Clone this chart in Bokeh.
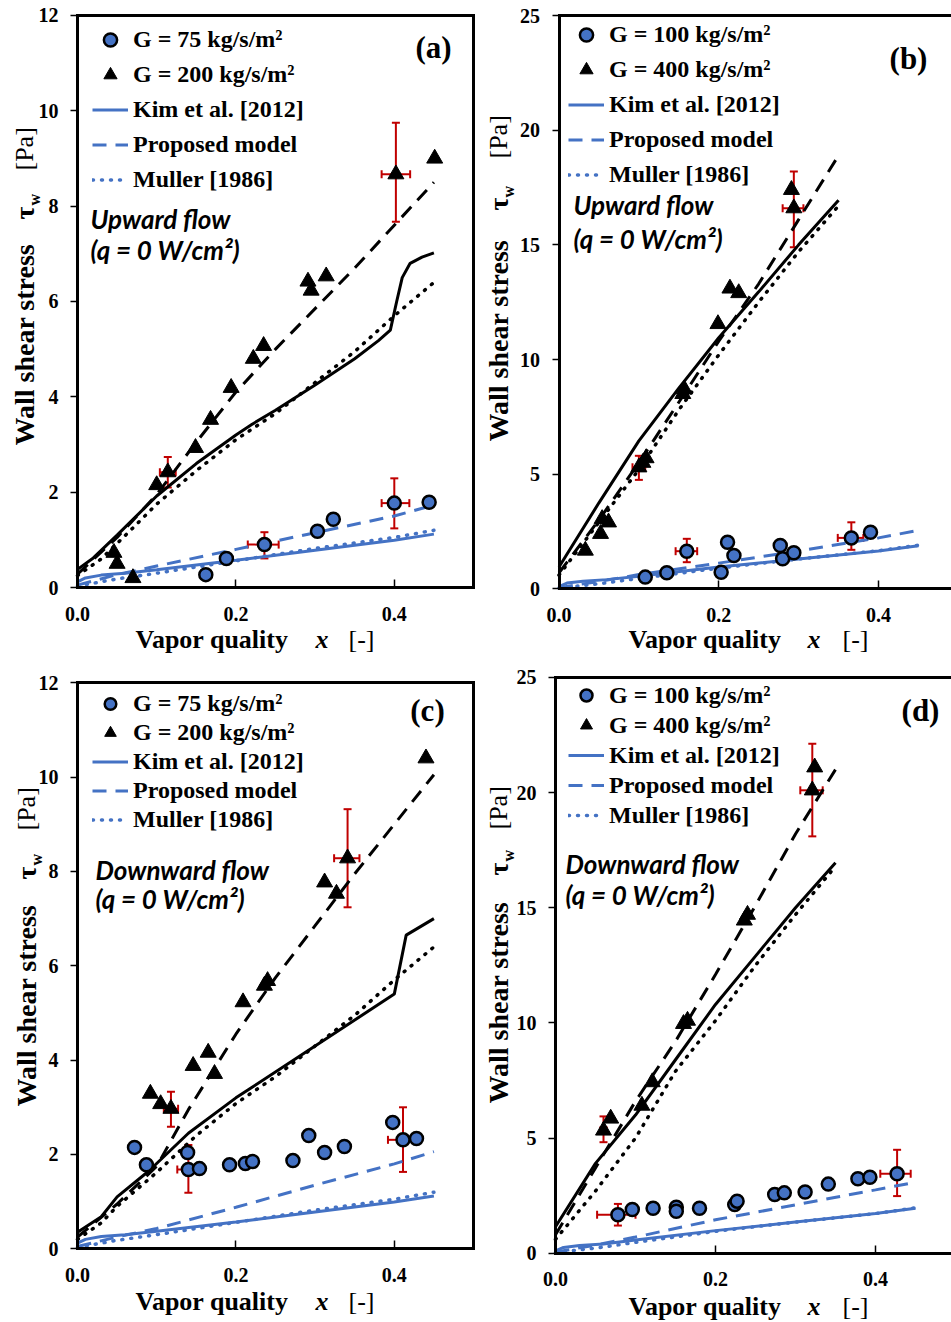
import math
from bokeh.plotting import figure
from bokeh.models import (ColumnDataSource, Range1d, FixedTicker, Label, Legend, LegendItem,
                          Whisker, TeeHead, LinearAxis, NumeralTickFormatter)
from bokeh.layouts import column, row
from bokeh.embed import file_html
from bokeh.resources import INLINE

BLUE = "#4472C4"
RED = "#C00000"
SERIF = "Liberation Serif"
SANS = "Lato"

# ---------------- Panel (a): upward flow, G = 75 / 200 ----------------
a_x_lo = [0.162, 0.188, 0.236, 0.303, 0.323, 0.400, 0.444]
a_y_lo = [0.27, 0.61, 0.90, 1.18, 1.43, 1.77, 1.79]
a_x_hi = [0.046, 0.050, 0.070, 0.100, 0.114, 0.149, 0.168, 0.194, 0.222, 0.235, 0.291, 0.295, 0.314, 0.402, 0.451]
a_y_hi = [0.73, 0.50, 0.20, 2.15, 2.42, 2.93, 3.52, 4.19, 4.80, 5.07, 6.42, 6.23, 6.53, 8.67, 9.00]
a_err_x = [0.236, 0.400, 0.114, 0.402]
a_err_y = [0.90, 1.77, 2.42, 8.67]
a_err_ylo = [0.61, 1.24, 2.10, 7.67]
a_err_yhi = [1.16, 2.29, 2.74, 9.75]
a_err_xlo = [0.215, 0.384, 0.104, 0.384]
a_err_xhi = [0.254, 0.419, 0.124, 0.420]
a_kim_hi_x = [0, 0.02, 0.05, 0.10, 0.15, 0.20, 0.22, 0.25, 0.30, 0.35, 0.38, 0.395, 0.403, 0.41, 0.42, 0.435, 0.45]
a_kim_hi_y = [0.38, 0.62, 1.10, 1.92, 2.60, 3.20, 3.42, 3.72, 4.25, 4.80, 5.18, 5.40, 6.00, 6.50, 6.80, 6.93, 7.02]
a_mul_hi_x = [0, 0.03, 0.07, 0.10, 0.15, 0.20, 0.25, 0.30, 0.35, 0.40, 0.45]
a_mul_hi_y = [0.25, 0.60, 1.25, 1.75, 2.45, 3.10, 3.65, 4.30, 4.95, 5.70, 6.40]
a_pro_hi_x = [0, 0.05, 0.10, 0.15, 0.20, 0.25, 0.30, 0.35, 0.40, 0.45]
a_pro_hi_y = [0.28, 1.05, 1.95, 3.05, 4.10, 5.00, 5.85, 6.70, 7.60, 8.50]
a_kim_lo_x = [0, 0.01, 0.03, 0.06, 0.10, 0.20, 0.30, 0.40, 0.45]
a_kim_lo_y = [0.12, 0.20, 0.26, 0.30, 0.37, 0.57, 0.78, 0.99, 1.12]
a_pro_lo_x = [0, 0.05, 0.10, 0.20, 0.30, 0.40, 0.45]
a_pro_lo_y = [0.05, 0.27, 0.45, 0.80, 1.15, 1.50, 1.73]
a_mul_lo_x = [0, 0.05, 0.10, 0.20, 0.30, 0.40, 0.45]
a_mul_lo_y = [0.03, 0.18, 0.30, 0.56, 0.82, 1.05, 1.20]

# ---------------- Panel (b): upward flow, G = 100 / 400 ----------------
b_x_lo = [0.108, 0.135, 0.160, 0.203, 0.211, 0.219, 0.277, 0.280, 0.294, 0.366, 0.390]
b_y_lo = [0.51, 0.70, 1.64, 0.72, 2.03, 1.45, 1.89, 1.31, 1.57, 2.22, 2.47]
b_x_hi = [0.033, 0.052, 0.054, 0.062, 0.100, 0.105, 0.109, 0.155, 0.157, 0.199, 0.214, 0.225, 0.291, 0.294]
b_y_hi = [1.67, 2.40, 3.05, 2.90, 5.30, 5.50, 5.70, 8.50, 8.70, 11.55, 13.10, 12.90, 17.40, 16.60]
b_err_x = [0.160, 0.366, 0.100, 0.294]
b_err_y = [1.64, 2.22, 5.30, 16.60]
b_err_ylo = [1.16, 1.70, 4.75, 14.90]
b_err_yhi = [2.18, 2.90, 5.80, 18.20]
b_err_xlo = [0.146, 0.349, 0.092, 0.280]
b_err_xhi = [0.173, 0.381, 0.108, 0.306]
b_kim_hi_x = [0, 0.05, 0.10, 0.15, 0.20, 0.25, 0.30, 0.35]
b_kim_hi_y = [0.95, 3.75, 6.45, 8.75, 10.95, 12.95, 15.00, 16.95]
b_mul_hi_x = [0, 0.05, 0.10, 0.15, 0.20, 0.25, 0.30, 0.35]
b_mul_hi_y = [0.60, 2.90, 5.20, 7.80, 10.20, 12.50, 14.70, 16.70]
b_pro_hi_x = [0, 0.05, 0.10, 0.155, 0.20, 0.25, 0.30, 0.35]
b_pro_hi_y = [0.70, 3.00, 5.50, 8.40, 10.80, 13.30, 16.10, 18.90]
b_kim_lo_x = [0, 0.01, 0.03, 0.06, 0.10, 0.20, 0.30, 0.40, 0.45]
b_kim_lo_y = [0.10, 0.25, 0.33, 0.40, 0.55, 0.95, 1.30, 1.65, 1.88]
b_pro_lo_x = [0, 0.05, 0.10, 0.20, 0.30, 0.40, 0.45]
b_pro_lo_y = [0.05, 0.32, 0.62, 1.12, 1.65, 2.22, 2.55]
b_mul_lo_x = [0, 0.05, 0.10, 0.20, 0.30, 0.40, 0.45]
b_mul_lo_y = [0.03, 0.22, 0.45, 0.90, 1.30, 1.66, 1.90]

# ---------------- Panel (c): downward flow, G = 75 / 200 ----------------
c_x_lo = [0.072, 0.087, 0.139, 0.140, 0.154, 0.192, 0.212, 0.221, 0.272, 0.292, 0.312, 0.337, 0.398, 0.411, 0.428]
c_y_lo = [2.15, 1.78, 2.04, 1.68, 1.70, 1.78, 1.81, 1.85, 1.87, 2.40, 2.04, 2.17, 2.68, 2.31, 2.34]
c_x_hi = [0.092, 0.105, 0.118, 0.146, 0.165, 0.173, 0.209, 0.236, 0.240, 0.312, 0.327, 0.341, 0.440]
c_y_hi = [3.29, 3.07, 2.97, 3.88, 4.16, 3.71, 5.23, 5.58, 5.68, 7.77, 7.53, 8.28, 10.40]
c_err_x = [0.140, 0.411, 0.118, 0.341]
c_err_y = [1.68, 2.31, 2.97, 8.28]
c_err_ylo = [1.19, 1.63, 2.59, 7.24]
c_err_yhi = [2.20, 3.00, 3.33, 9.32]
c_err_xlo = [0.126, 0.392, 0.109, 0.324]
c_err_xhi = [0.154, 0.430, 0.127, 0.356]
c_kim_hi_x = [0, 0.03, 0.05, 0.09, 0.14, 0.20, 0.22, 0.30, 0.40, 0.415, 0.45]
c_kim_hi_y = [0.35, 0.68, 1.10, 1.65, 2.45, 3.20, 3.42, 4.30, 5.40, 6.65, 7.00]
c_mul_hi_x = [0, 0.03, 0.05, 0.10, 0.15, 0.20, 0.25, 0.30, 0.35, 0.40, 0.45]
c_mul_hi_y = [0.20, 0.55, 0.90, 1.62, 2.40, 3.08, 3.65, 4.30, 4.95, 5.70, 6.40]
c_pro_hi_x = [0, 0.05, 0.10, 0.14, 0.20, 0.25, 0.30, 0.35, 0.40, 0.45]
c_pro_hi_y = [0.25, 0.95, 1.75, 2.95, 4.55, 5.75, 6.85, 7.95, 9.00, 10.05]
c_kim_lo_x = [0, 0.01, 0.03, 0.06, 0.10, 0.20, 0.30, 0.40, 0.45]
c_kim_lo_y = [0.12, 0.20, 0.26, 0.30, 0.37, 0.57, 0.78, 0.99, 1.12]
c_pro_lo_x = [0, 0.05, 0.10, 0.20, 0.30, 0.40, 0.45]
c_pro_lo_y = [0.05, 0.25, 0.43, 0.88, 1.35, 1.80, 2.06]
c_mul_lo_x = [0, 0.05, 0.10, 0.20, 0.30, 0.40, 0.45]
c_mul_lo_y = [0.03, 0.18, 0.30, 0.56, 0.82, 1.05, 1.20]

# ---------------- Panel (d): downward flow, G = 100 / 400 ----------------
d_x_lo = [0.078, 0.096, 0.122, 0.151, 0.151, 0.180, 0.224, 0.227, 0.274, 0.286, 0.312, 0.341, 0.378, 0.393, 0.427]
d_y_lo = [1.67, 1.90, 1.95, 2.00, 1.82, 1.95, 2.11, 2.26, 2.55, 2.62, 2.66, 3.00, 3.23, 3.30, 3.45]
d_x_hi = [0.060, 0.069, 0.108, 0.121, 0.160, 0.165, 0.236, 0.240, 0.321, 0.324]
d_y_hi = [5.33, 5.85, 6.41, 7.43, 9.96, 10.10, 14.45, 14.70, 20.10, 21.10]
d_err_x = [0.078, 0.427, 0.060, 0.321]
d_err_y = [1.67, 3.45, 5.33, 20.10]
d_err_ylo = [1.20, 2.48, 4.82, 18.10]
d_err_yhi = [2.14, 4.49, 5.94, 22.12]
d_err_xlo = [0.052, 0.406, 0.056, 0.306]
d_err_xhi = [0.100, 0.444, 0.064, 0.334]
d_kim_hi_x = [0, 0.05, 0.10, 0.15, 0.20, 0.25, 0.30, 0.35]
d_kim_hi_y = [1.15, 3.90, 6.00, 8.40, 10.80, 12.90, 15.00, 16.95]
d_mul_hi_x = [0, 0.05, 0.10, 0.15, 0.20, 0.25, 0.30, 0.35]
d_mul_hi_y = [0.60, 2.70, 5.00, 7.90, 10.10, 12.50, 14.70, 16.80]
d_pro_hi_x = [0, 0.05, 0.10, 0.15, 0.20, 0.25, 0.30, 0.35]
d_pro_hi_y = [0.80, 3.70, 6.60, 9.20, 12.10, 15.10, 18.20, 21.00]
d_kim_lo_x = [0, 0.01, 0.03, 0.06, 0.10, 0.20, 0.30, 0.40, 0.45]
d_kim_lo_y = [0.10, 0.25, 0.33, 0.40, 0.57, 0.98, 1.35, 1.72, 1.95]
d_pro_lo_x = [0, 0.05, 0.10, 0.20, 0.30, 0.40, 0.45]
d_pro_lo_y = [0.05, 0.35, 0.70, 1.45, 2.10, 2.75, 3.08]
d_mul_lo_x = [0, 0.05, 0.10, 0.20, 0.30, 0.40, 0.45]
d_mul_lo_y = [0.03, 0.22, 0.47, 0.95, 1.35, 1.72, 1.97]

x_ticks = [0.0, 0.2, 0.4]
y_ticks_small = [0, 2, 4, 6, 8, 10, 12]
y_ticks_large = [0, 5, 10, 15, 20, 25]

legend_labels_75 = ["G = 75 kg/s/m²", "G = 200 kg/s/m²"]
legend_labels_100 = ["G = 100 kg/s/m²", "G = 400 kg/s/m²"]
model_labels = ["Kim et al. [2012]", "Proposed model", "Muller [1986]"]

DASH = "14 9"
DOT = "1 8"


def add_text(p, spec, X, Y, text, font=SERIF, size="24px", style="bold",
             align="left", baseline="middle", angle=0.0):
    p.add_layout(Label(x=X - spec["ox"], y=spec["oy"] + spec["h"] - Y, x_units="screen", y_units="screen",
                       text=text, text_font=font, text_font_size=size, text_font_style=style,
                       text_align=align, text_baseline=baseline, angle=angle, text_color="black"))


def style_axis(ax):
    ax.axis_line_width = 3
    ax.axis_line_color = "black"
    ax.axis_line_cap = "square"
    ax.major_tick_line_color = "black"
    ax.major_tick_line_width = 1.5
    ax.minor_tick_line_color = None
    ax.major_label_text_font = SERIF
    ax.major_label_text_font_style = "bold"
    ax.major_label_text_font_size = "20px"
    ax.major_label_text_color = "black"


def border_axis(p, loc, side, bounds):
    ax = LinearAxis(fixed_location=loc, bounds=bounds, ticker=FixedTicker(ticks=[]),
                    major_tick_line_color=None, minor_tick_line_color=None,
                    major_label_text_font_size="0px", axis_line_width=3, axis_line_color="black",
                    axis_line_cap="square")
    p.add_layout(ax, side)


def build(spec, d):
    ox, oy, w, h = spec["ox"], spec["oy"], spec["w"], spec["h"]
    kx, ky = spec["kx"], spec["ky"]
    x0 = -(spec["X0"] - ox) / kx
    x1 = (ox + w - spec["X0"]) / kx
    y0 = -(oy + h - spec["Y0"]) / ky
    y1 = (spec["Y0"] - oy) / ky
    p = figure(width=w, height=h, x_range=Range1d(x0, x1), y_range=Range1d(y0, y1),
               min_border=0, min_border_left=0, min_border_right=0, min_border_top=0, min_border_bottom=0,
               toolbar_location=None, output_backend="svg")
    p.xgrid.visible = False
    p.ygrid.visible = False
    p.outline_line_color = None
    p.background_fill_color = "white"
    p.border_fill_color = "white"

    xa, ya = p.xaxis[0], p.yaxis[0]
    style_axis(xa)
    style_axis(ya)
    xa.fixed_location = 0
    ya.fixed_location = 0
    xa.bounds = (0, spec["xmax"])
    ya.bounds = (0, spec["ymax"])
    xa.ticker = FixedTicker(ticks=x_ticks)
    xa.formatter = NumeralTickFormatter(format="0.0")
    xa.major_tick_in = 8
    xa.major_tick_out = 0
    xa.major_label_standoff = 19
    ya.ticker = FixedTicker(ticks=spec["yticks"])
    ya.formatter = NumeralTickFormatter(format="0")
    ya.major_tick_in = 0
    ya.major_tick_out = 7
    ya.major_label_standoff = 12
    border_axis(p, spec["ymax"], "above", (0, spec["xmax"]))
    if spec["right_border"]:
        border_axis(p, spec["xmax"], "right", (0, spec["ymax"]))

    # model curves, high mass flux (black)
    p.line(d["kim_hi_x"], d["kim_hi_y"], line_color="black", line_width=3)
    p.line(d["pro_hi_x"], d["pro_hi_y"], line_color="black", line_width=3, line_dash=DASH)
    p.line(d["mul_hi_x"], d["mul_hi_y"], line_color="black", line_width=3.5, line_dash=DOT, line_cap="round")
    # model curves, low mass flux (blue)
    r_kim = p.line(d["kim_lo_x"], d["kim_lo_y"], line_color=BLUE, line_width=3)
    r_pro = p.line(d["pro_lo_x"], d["pro_lo_y"], line_color=BLUE, line_width=3, line_dash=DASH)
    r_mul = p.line(d["mul_lo_x"], d["mul_lo_y"], line_color=BLUE, line_width=3.5, line_dash=DOT, line_cap="round")

    # error bars
    src = ColumnDataSource(dict(x=d["err_x"], y=d["err_y"], ylo=d["err_ylo"], yhi=d["err_yhi"],
                                xlo=d["err_xlo"], xhi=d["err_xhi"]))
    for dim, base, lo, hi in (("height", "x", "ylo", "yhi"), ("width", "y", "xlo", "xhi")):
        wk = Whisker(source=src, base=base, lower=lo, upper=hi, dimension=dim,
                     line_color=RED, line_width=2, level="underlay",
                     lower_head=TeeHead(size=8, line_color=RED, line_width=2),
                     upper_head=TeeHead(size=8, line_color=RED, line_width=2))
        p.add_layout(wk)

    r_tri = p.scatter(d["x_hi"], d["y_hi"], marker="triangle", size=16,
                      fill_color="black", line_color="black", line_width=1)
    r_cir = p.scatter(d["x_lo"], d["y_lo"], marker="circle", size=13,
                      fill_color=BLUE, line_color="black", line_width=2.5)

    gh, sp = spec["leg_gh"], spec["leg_sp"]
    n = 5
    leg_h = n * gh + (n - 1) * sp
    leg_top = spec["leg_row1"] - gh / 2.0
    vx = spec["leg_x"] - ox
    vy = oy + h - (leg_top + leg_h)
    labels = spec["glabels"] + model_labels
    items = [LegendItem(label=lab, renderers=[r]) for lab, r in zip(labels, [r_cir, r_tri, r_kim, r_pro, r_mul])]
    legend = Legend(items=items, location=(vx, vy), orientation="vertical",
                    glyph_width=36, glyph_height=gh, label_height=gh, spacing=sp,
                    padding=0, margin=0, label_standoff=5,
                    label_text_font=SERIF, label_text_font_style="bold", label_text_font_size="24px",
                    label_text_color="black", background_fill_alpha=0, border_line_alpha=0)
    p.add_layout(legend)

    # panel tag
    add_text(p, spec, spec["tag_x"], spec["tag_y"], spec["tag"], size="31px", align="center")
    # flow annotation
    add_text(p, spec, spec["flow_x"], spec["flow_y1"], spec["flow"], font=SANS, size="26px", style="bold italic")
    add_text(p, spec, spec["flow_x"], spec["flow_y2"], "(q = 0 W/cm²)", font=SANS, size="26px", style="bold italic")
    # x axis label
    add_text(p, spec, spec["xl_x1"], spec["xl_y"], "Vapor quality", size="26px")
    add_text(p, spec, spec["xl_x2"], spec["xl_y"], "x", size="26px", style="bold italic")
    add_text(p, spec, spec["xl_x3"], spec["xl_y"], "[-]", size="26px", style="normal")
    # y axis label (rotated)
    A = math.pi / 2
    ym = spec["yl_m"]
    add_text(p, spec, ym, spec["yl_wall"], "Wall shear stress", size="28px", angle=A)
    add_text(p, spec, ym, spec["yl_tau"], "τ", size="28px", angle=A)
    add_text(p, spec, ym + 10, spec["yl_w"], "w", size="16px", angle=A)
    add_text(p, spec, ym, spec["yl_pa"], "[Pa]", size="26px", style="normal", angle=A)
    return p


def data(prefix):
    g = globals()
    keys = ["x_lo", "y_lo", "x_hi", "y_hi", "err_x", "err_y", "err_ylo", "err_yhi", "err_xlo", "err_xhi",
            "kim_hi_x", "kim_hi_y", "mul_hi_x", "mul_hi_y", "pro_hi_x", "pro_hi_y",
            "kim_lo_x", "kim_lo_y", "pro_lo_x", "pro_lo_y", "mul_lo_x", "mul_lo_y"]
    return {k: g[prefix + "_" + k] for k in keys}


spec_a = dict(ox=0, oy=0, w=475, h=660, X0=77, kx=792, Y0=587, ky=47.67, xmax=0.5, ymax=12, right_border=True,
              yticks=y_ticks_small, glabels=legend_labels_75,
              leg_x=92, leg_row1=39, leg_gh=33, leg_sp=2,
              tag="(a)", tag_x=433, tag_y=47, flow="Upward flow", flow_x=90, flow_y1=218, flow_y2=249,
              xl_x1=135, xl_x2=315, xl_x3=348, xl_y=639,
              yl_m=24, yl_wall=445, yl_tau=219, yl_w=205, yl_pa=170)
spec_b = dict(ox=475, oy=0, w=476, h=660, X0=558.5, kx=798.75, Y0=588.3, ky=22.93, xmax=0.495, ymax=25,
              right_border=False,
              yticks=y_ticks_large, glabels=legend_labels_100,
              leg_x=568, leg_row1=34, leg_gh=33, leg_sp=2,
              tag="(b)", tag_x=908, tag_y=58, flow="Upward flow", flow_x=573, flow_y1=204, flow_y2=238,
              xl_x1=628, xl_x2=807, xl_x3=842, xl_y=639,
              yl_m=498, yl_wall=441, yl_tau=210, yl_w=197, yl_pa=158)
spec_c = dict(ox=0, oy=660, w=475, h=662, X0=77, kx=792, Y0=1248.3, ky=47.17, xmax=0.5, ymax=12, right_border=True,
              yticks=y_ticks_small, glabels=legend_labels_75,
              leg_x=92, leg_row1=703, leg_gh=29, leg_sp=0,
              tag="(c)", tag_x=427, tag_y=710, flow="Downward flow", flow_x=95, flow_y1=869, flow_y2=898,
              xl_x1=135, xl_x2=315, xl_x3=348, xl_y=1301,
              yl_m=26, yl_wall=1106, yl_tau=879, yl_w=865, yl_pa=830)
spec_d = dict(ox=475, oy=660, w=476, h=662, X0=555, kx=800, Y0=1252.7, ky=23.03, xmax=0.5, ymax=25,
              right_border=False,
              yticks=y_ticks_large, glabels=legend_labels_100,
              leg_x=568, leg_row1=695, leg_gh=30, leg_sp=0,
              tag="(d)", tag_x=920, tag_y=710, flow="Downward flow", flow_x=565, flow_y1=863, flow_y2=894,
              xl_x1=628, xl_x2=807, xl_x3=842, xl_y=1306,
              yl_m=498, yl_wall=1103, yl_tau=875, yl_w=861, yl_pa=829)

pa = build(spec_a, data("a"))
pb = build(spec_b, data("b"))
pc = build(spec_c, data("c"))
pd = build(spec_d, data("d"))

layout = column(row(pa, pb), row(pc, pd))
html = file_html(layout, INLINE, title="Wall shear stress")
html = html.replace("<head>", "<head><style>html,body{margin:0;padding:0;}</style>", 1)
open("out.html", "w").write(html)
